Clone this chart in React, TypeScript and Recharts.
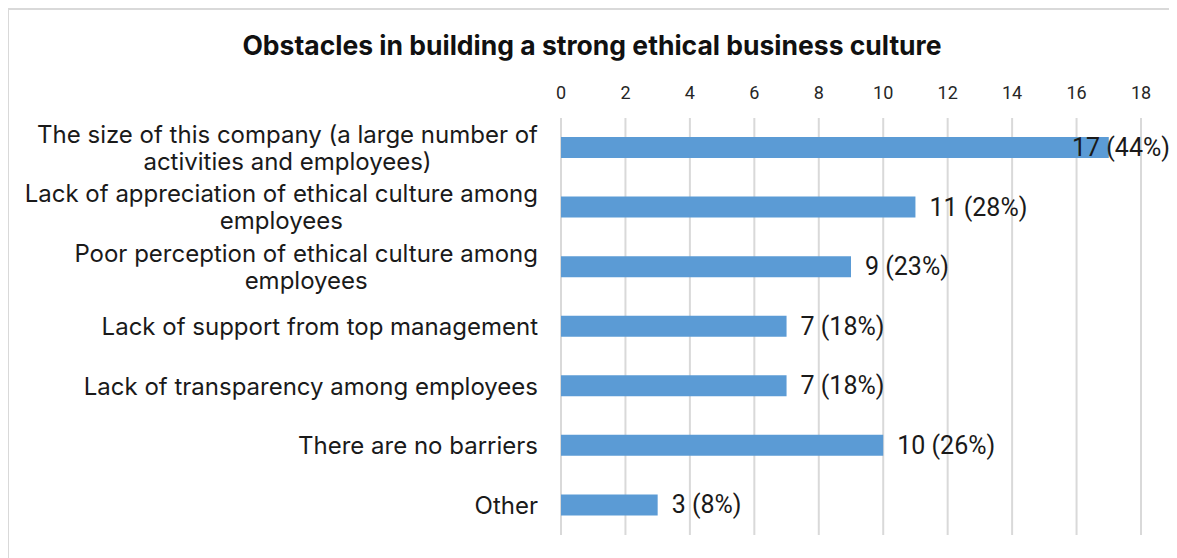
import React from "react"
import { BarChart, Bar, XAxis, YAxis, CartesianGrid, LabelList } from "recharts"

const categories = [
  ["The size of this company (a large number of", "activities and employees)"],
  ["Lack of appreciation of ethical culture among", "employees"],
  ["Poor perception of ethical culture among", "employees"],
  ["Lack of support from top management"],
  ["Lack of transparency among employees"],
  ["There are no barriers"],
  ["Other"],
]
const counts = [17, 11, 9, 7, 7, 10, 3]
const percents = [44, 28, 23, 18, 18, 26, 8]
const xTicks = [0, 2, 4, 6, 8, 10, 12, 14, 16, 18]

const data = categories.map((lines, i) => ({
  name: lines.join(" "),
  lines,
  count: counts[i],
  pct: percents[i],
}))

const W = 1169
const H = 550
const Y_AXIS_W = 553
const PLOT_TOP = 110
const CAT_SIZE = 24
const LABEL_SIZE = 25

let ctx: CanvasRenderingContext2D | null = null
function measure(text: string, font: string) {
  if (!ctx) ctx = document.createElement("canvas").getContext("2d")
  if (!ctx) return text.length * 11
  ctx.font = font
  return ctx.measureText(text).width
}

function CategoryTick(props: any) {
  const { y, payload, index } = props
  const lines: string[] = data[index]?.lines ?? [payload.value]
  const right = Y_AXIS_W - 23
  const blockW = Math.max(...lines.map((l) => measure(l, `${CAT_SIZE}px Inter`)))
  const cx = right - blockW / 2
  const lh = 27
  const startY = y - ((lines.length - 1) * lh) / 2
  return (
    <text textAnchor="middle" fontFamily="Inter" fontSize={CAT_SIZE} fill="#1a1a1a">
      {lines.map((l, i) => (
        <tspan key={i} x={cx} y={startY + i * lh} dominantBaseline="central">
          {l}
        </tspan>
      ))}
    </text>
  )
}

function ValueTick(props: any) {
  const { x, payload } = props
  return (
    <text x={x} y={PLOT_TOP - 26} textAnchor="middle" dominantBaseline="central" fontFamily="Roboto" fontSize={18} fill="#262626">
      {payload.value}
    </text>
  )
}

function ValueLabel(props: any) {
  const { x, y, width, height, index } = props
  const text = `${counts[index]} (${percents[index]}%)`
  const w = measure(text, `${LABEL_SIZE}px Roboto`)
  const lx = Math.min(x + width + 14, W - 7 - w)
  return (
    <text x={lx} y={y + height / 2} dominantBaseline="central" fontFamily="Roboto" fontSize={LABEL_SIZE} fill="#1a1a1a">
      {text}
    </text>
  )
}

export default function App() {
  return (
    <div style={{ position: "relative", width: W, height: H, background: "#fff" }}>
      <style>{`body{overflow:hidden}`}</style>
      <div
        style={{
          position: "absolute",
          left: -1,
          top: 0,
          width: W + 20,
          height: H + 20,
          borderTop: "2px solid #d9d9d9",
          borderLeft: "2px solid #d9d9d9",
          boxSizing: "border-box",
          pointerEvents: "none",
        }}
      />
      <div
        style={{
          position: "absolute",
          left: 0,
          width: 1168,
          top: 21,
          textAlign: "center",
          fontFamily: "Inter",
          fontWeight: 700,
          fontSize: 26.5,
          lineHeight: "32px",
          color: "#111",
        }}
      >
        Obstacles in building a strong ethical business culture
      </div>
      <BarChart
        width={W}
        height={H}
        data={data}
        layout="vertical"
        margin={{ top: 80, right: 36, left: 0, bottom: 23 }}
        barCategoryGap="64%"
      >
        <CartesianGrid horizontal={false} stroke="#d9d9d9" strokeWidth={2} />
        <XAxis
          type="number"
          orientation="top"
          domain={[0, 18]}
          ticks={xTicks}
          height={30}
          axisLine={false}
          tickLine={false}
          tick={<ValueTick />}
          interval={0}
        />
        <YAxis
          type="category"
          dataKey="name"
          width={Y_AXIS_W}
          axisLine={false}
          tickLine={false}
          tick={<CategoryTick />}
          interval={0}
        />
        <Bar dataKey="count" fill="#5b9bd5" barSize={21} isAnimationActive={false}>
          <LabelList dataKey="count" content={<ValueLabel />} />
        </Bar>
      </BarChart>
    </div>
  )
}
